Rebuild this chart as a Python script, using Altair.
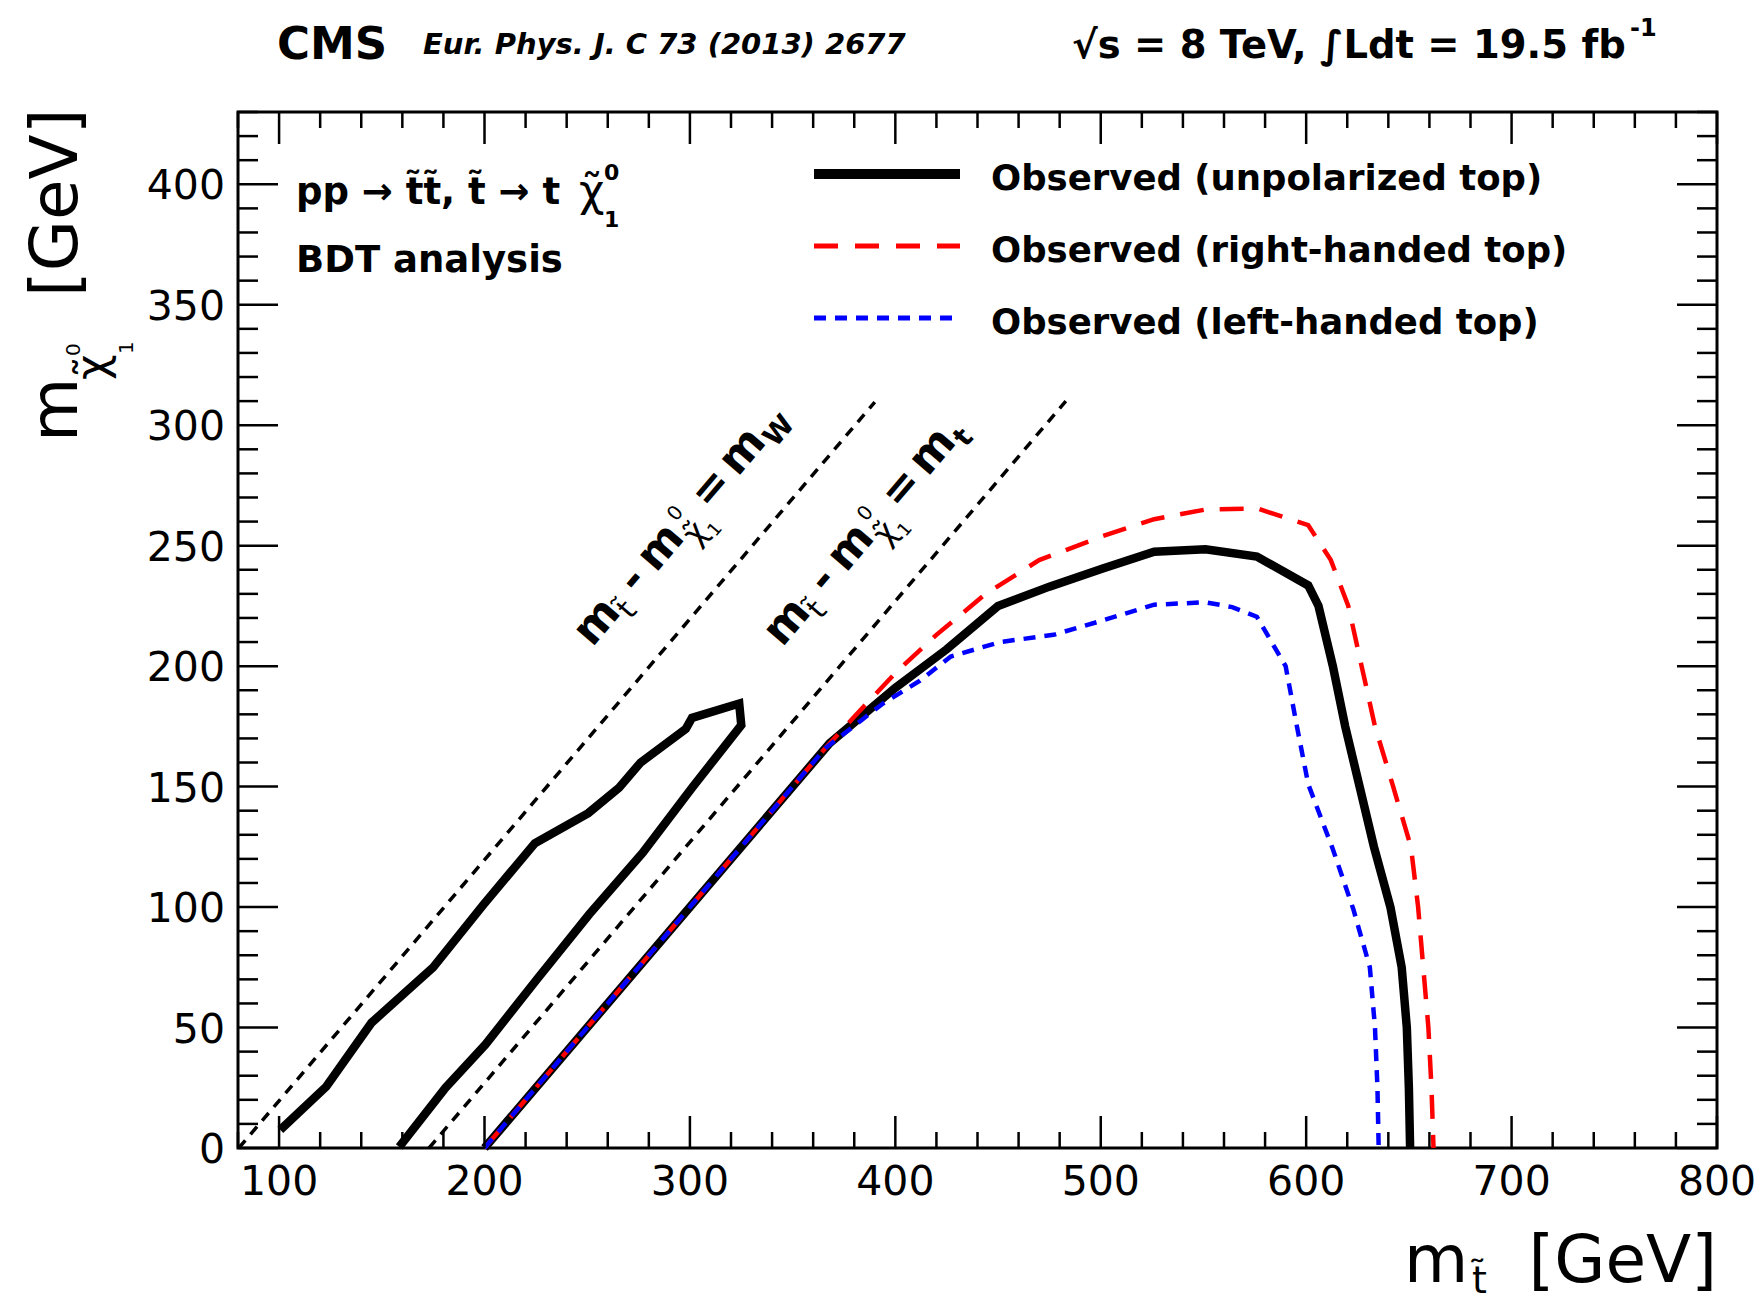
import altair as alt
import pandas as pd

FONT = "DejaVu Sans"
W, H = 1479, 1036

# ---------------- data ----------------
# Observed (unpolarized top) - main contour
unpol_x = [200, 368, 400, 425, 450, 475, 501, 526, 551, 576, 601, 606, 613, 619, 626, 633, 641, 646.5, 649, 650, 650.6]
unpol_y = [0, 168, 191, 207, 225, 233, 240.5, 247.5, 248.5, 245.5, 233.5, 225, 200, 175, 150, 125, 100, 75, 50, 25, 0]
# Observed (unpolarized top) - island near the m_W line
isl_x = [100.6, 123, 145, 175, 199.5, 224.5, 250.5, 265.5, 276, 298, 301, 324, 325, 301, 277, 251, 225.5, 200.5, 181, 158.5]
isl_y = [7.5, 25.5, 52, 75, 101, 126.5, 139, 149.5, 160, 174, 178.5, 184.5, 175.5, 149.5, 122.5, 97, 70, 43, 25, 0.5]
# Observed (right-handed top)
rh_x = [200, 366, 380, 401, 420, 444, 470, 501, 526, 551, 576, 601, 612, 620.5, 627, 633.5, 642, 651, 654.5, 657, 659.5, 661, 662]
rh_y = [0, 166, 179, 198, 213, 230, 244, 254, 261, 265, 265.5, 258.5, 244, 225, 200, 175, 151, 125, 100, 75, 50, 25, 0]
# Observed (left-handed top)
lh_x = [200, 366, 394, 412, 427, 451, 477, 501, 526, 551, 564, 576, 590, 595.5, 601, 613, 623, 631, 633.5, 634.7, 635.3]
lh_y = [0, 166, 184.5, 194, 204, 210, 213, 219, 225.5, 226.5, 224.5, 220.5, 200, 175, 151, 124, 99, 75, 50, 25, 0]
# kinematic boundary lines
mw_x = [80.4, 390]
mw_y = [0, 309.6]
mt_x = [173, 483]
mt_y = [0, 310]

# axis ticks and tick labels
x_major = [100, 200, 300, 400, 500, 600, 700, 800]
x_minor = [80, 120, 140, 160, 180, 220, 240, 260, 280, 320, 340, 360, 380, 420, 440, 460, 480,
           520, 540, 560, 580, 620, 640, 660, 680, 720, 740, 760, 780]
y_major = [0, 50, 100, 150, 200, 250, 300, 350, 400]
y_minor = [10, 20, 30, 40, 60, 70, 80, 90, 110, 120, 130, 140, 160, 170, 180, 190, 210, 220, 230, 240,
           260, 270, 280, 290, 310, 320, 330, 340, 360, 370, 380, 390, 410, 420, 430]
x_labels = ["100", "200", "300", "400", "500", "600", "700", "800"]
y_labels = ["0", "50", "100", "150", "200", "250", "300", "350", "400"]

legend_labels = ["Observed (unpolarized top)", "Observed (right-handed top)", "Observed (left-handed top)"]

# diagonal label anchors (data coords, start of baseline)
diag_ax = [252.5, 345.0]
diag_ay = [207.5, 207.5]

XS = alt.Scale(domain=[80, 800], nice=False, zero=False)
YS = alt.Scale(domain=[0, 430], nice=False, zero=False)

one = pd.DataFrame({"a": [0]})


def curve(xs, ys, color, width, dash=None):
    df = pd.DataFrame({"x": xs, "y": ys, "i": list(range(len(xs)))})
    kw = dict(color=color, strokeWidth=width, strokeJoin="miter", strokeMiterLimit=3)
    if dash:
        kw["strokeDash"] = dash
    return alt.Chart(df).mark_line(**kw).encode(
        x=alt.X("x:Q", scale=XS, axis=None),
        y=alt.Y("y:Q", scale=YS, axis=None),
        order="i:Q",
    )


def xticks(vals, L, top):
    df = pd.DataFrame({"v": vals})
    y0, y1 = (0, L) if top else (H, H - L)
    return alt.Chart(df).mark_rule(color="black", strokeWidth=2.5).encode(
        x=alt.X("v:Q", scale=XS, axis=None), y=alt.value(y0), y2=alt.value(y1))


def yticks(vals, L, right):
    df = pd.DataFrame({"v": vals})
    x0, x1 = (W, W - L) if right else (0, L)
    return alt.Chart(df).mark_rule(color="black", strokeWidth=2.5).encode(
        y=alt.Y("v:Q", scale=YS, axis=None), x=alt.value(x0), x2=alt.value(x1))


def xlabels():
    df = pd.DataFrame({"v": x_major, "t": x_labels})
    return alt.Chart(df).mark_text(font=FONT, fontSize=41, align="center", baseline="alphabetic",
                                   color="black").encode(
        x=alt.X("v:Q", scale=XS, axis=None), y=alt.value(H + 47), text="t:N")


def ylabels():
    df = pd.DataFrame({"v": y_major, "t": y_labels})
    return alt.Chart(df).mark_text(font=FONT, fontSize=41, align="right", baseline="alphabetic",
                                   color="black", dy=15).encode(
        y=alt.Y("v:Q", scale=YS, axis=None), x=alt.value(-13), text="t:N")


def ptext(text, x, y, size, weight="normal", style="normal", angle=0, align="left", dx=0, dy=0):
    kw = dict(text=text, font=FONT, fontSize=size, fontWeight=weight, fontStyle=style,
              align=align, baseline="alphabetic", color="black", dx=dx, dy=dy)
    if angle:
        kw["angle"] = angle
    return alt.Chart(one).mark_text(**kw).encode(x=alt.value(x), y=alt.value(y))


def dtext(text, size, weight="normal", dx=0, dy=0, idx=None):
    df = pd.DataFrame({"ax": diag_ax, "ay": diag_ay})
    if idx is not None:
        df = df.iloc[[idx]]
    return alt.Chart(df).mark_text(
        text=text, font=FONT, fontSize=size, fontWeight=weight, align="left",
        baseline="alphabetic", color="black", angle=310.45, dx=dx, dy=dy
    ).encode(x=alt.X("ax:Q", scale=XS, axis=None), y=alt.Y("ay:Q", scale=YS, axis=None))


def legend_rule(y, color, width, dash=None):
    kw = dict(color=color, strokeWidth=width)
    if dash:
        kw["strokeDash"] = dash
    return alt.Chart(one).mark_rule(**kw).encode(x=alt.value(576), x2=alt.value(722), y=alt.value(y))


layers = [
    curve(mw_x, mw_y, "black", 3.5, [10, 8]),
    curve(mt_x, mt_y, "black", 3.5, [10, 8]),
    curve(isl_x, isl_y, "black", 8.5),
    curve(unpol_x, unpol_y, "black", 8.5),
    curve(rh_x, rh_y, "#ff0000", 4.5, [24, 16]),
    curve(lh_x, lh_y, "#0000ff", 4.5, [12, 9]),
    # ticks, all four sides, pointing inward
    xticks(x_major, 32, False), xticks(x_minor, 16, False),
    xticks(x_major, 32, True), xticks(x_minor, 16, True),
    yticks(y_major, 40, False), yticks(y_minor, 20, False),
    yticks(y_major, 40, True), yticks(y_minor, 20, True),
    xlabels(), ylabels(),
    # header
    ptext("CMS", 39, -53, 45, weight="bold"),
    ptext("Eur. Phys. J. C 73 (2013) 2677", 185, -58, 29, weight="bold", style="italic"),
    ptext("\u221as = 8 TeV, \u222bLdt = 19.5 fb", 834, -54, 38.5, weight="bold"),
    ptext("-1", 1392, -76, 24, weight="bold"),
    # process text
    ptext("pp \u2192 t\u0303t\u0303, t\u0303 \u2192 t", 58, 92, 37, weight="bold"),
    ptext("\u03c7\u0303", 341, 94, 44),
    ptext("0", 366, 68, 22, weight="bold"),
    ptext("1", 366, 115, 22, weight="bold"),
    ptext("BDT analysis", 58, 160, 37, weight="bold"),
    # legend
    legend_rule(62, "black", 10),
    legend_rule(134, "#ff0000", 5, [24, 17]),
    legend_rule(206, "#0000ff", 5, [12, 9]),
    ptext(legend_labels[0], 753, 78, 35.5, weight="bold"),
    ptext(legend_labels[1], 753, 150, 35.5, weight="bold"),
    ptext(legend_labels[2], 753, 222, 35.5, weight="bold"),
    # x axis title
    ptext("m", 1166, 1170, 66),
    ptext("t\u0303", 1234, 1181, 38),
    ptext("[GeV]", 1479, 1170, 66, align="right"),
    # y axis title (rotated)
    ptext("m", -161, 330, 66, angle=270),
    ptext("\u03c7\u0303", -161, 330, 44, angle=270, dx=62, dy=30),
    ptext("0", -161, 330, 20, angle=270, dx=86, dy=3),
    ptext("1", -161, 330, 20, angle=270, dx=88, dy=56),
    ptext("[GeV]", -161, 330, 66, angle=270, dx=145),
    # diagonal labels
    dtext("m", 44, "bold"),
    dtext("t\u0303", 30, "normal", dx=46, dy=11),
    dtext("-", 44, "bold", dx=69),
    dtext("m", 44, "bold", dx=98),
    dtext("\u03c7\u0303", 32, "normal", dx=145, dy=14),
    dtext("0", 20, "normal", dx=150, dy=-18),
    dtext("1", 18, "normal", dx=164, dy=22),
    dtext("=", 44, "bold", dx=180),
    dtext("m", 44, "bold", dx=224),
    dtext("W", 28, "bold", dx=271, dy=10, idx=0),
    dtext("t", 28, "bold", dx=271, dy=10, idx=1),
]

chart = alt.layer(*layers).properties(
    width=W, height=H,
    autosize=alt.AutoSizeParams(type="none"),
    padding={"left": 238, "top": 112, "right": 43, "bottom": 157},
    background="white",
).configure_view(stroke="black", strokeWidth=3)

chart.save("out.html", embed_options={"renderer": "svg", "actions": False})
